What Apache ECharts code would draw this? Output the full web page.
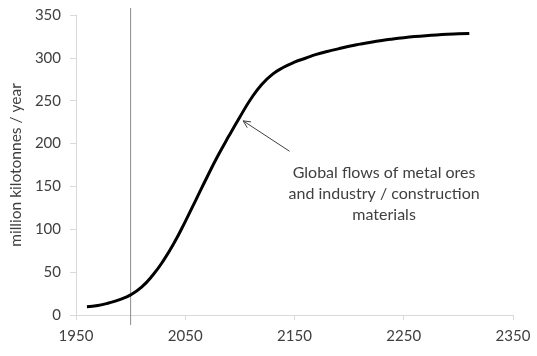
<!DOCTYPE html>
<html>
<head>
<meta charset="utf-8">
<script src="https://cdn.jsdelivr.net/npm/echarts@6/dist/echarts.min.js"></script>
<style>html,body{margin:0;padding:0;background:#fff;}#c{width:537px;height:356px;}</style>
</head>
<body>
<div id="c"></div>
<script>
const years = [1960,1970,1980,1990,2000,2010,2020,2030,2040,2050,2060,2070,2080,2090,2100,2110,2120,2130,2140,2150,2160,2170,2180,2190,2200,2210,2220,2230,2240,2250,2260,2270,2280,2290,2300,2310];
const flows = [9.5,11,14,18,23.5,32.5,46,63.5,84.5,109,135,161,186,209,231,252,269,281,289,295,299.5,304,307.5,310.5,313.5,316,318.3,320.3,322,323.5,324.8,325.9,326.8,327.5,328,328.5];
const xTicks = [1950,2050,2150,2250,2350];
const yTicks = [0,50,100,150,200,250,300,350];
const refYear = 2000;
const annotationText = ['Global flows of metal ores','and industry / construction','materials'];
const arrowFrom = [2145.5, 191];
const arrowTo = [2103, 226.5];
const annotationAt = [2232, 178];

const FONT = 'Lato, "Open Sans", sans-serif';
const chart = echarts.init(document.getElementById('c'), null, {renderer:'canvas'});
chart.setOption({
  animation: false,
  backgroundColor: '#fff',
  grid: {left: 75, right: 24, top: 15, bottom: 41},
  xAxis: {
    type: 'value', min: 1950, max: 2350, interval: 100,
    axisLine: {show: true, lineStyle: {color: '#d9d9d9', width: 1}},
    axisTick: {show: true, length: 5, lineStyle: {color: '#d9d9d9'}},
    splitLine: {show: false},
    axisLabel: {color: '#404040', fontFamily: FONT, fontSize: 15, margin: 14,
      formatter: v => xTicks.includes(v) ? String(v) : ''}
  },
  yAxis: {
    type: 'value', min: 0, max: 350, interval: 50,
    name: 'million kilotonnes / year', nameLocation: 'middle', nameGap: 41, nameRotate: 90,
    nameTextStyle: {color: '#404040', fontFamily: FONT, fontSize: 15.5},
    axisLine: {show: true, lineStyle: {color: '#d9d9d9', width: 1}},
    axisTick: {show: true, length: 6, lineStyle: {color: '#d9d9d9'}},
    splitLine: {show: false},
    axisLabel: {color: '#404040', fontFamily: FONT, fontSize: 15, margin: 15,
      formatter: v => yTicks.includes(v) ? String(v) : ''}
  },
  series: [{
    type: 'line', smooth: 0.5, symbol: 'none',
    data: years.map((y,i) => [y, flows[i]]),
    lineStyle: {color: '#000', width: 3},
    z: 5
  }]
});

const toPx = v => chart.convertToPixel({xAxisIndex:0, yAxisIndex:0}, v);
const pTop = toPx([refYear, 350]);
const pBot = toPx([refYear, 0]);
const pTxt = toPx(annotationAt);
const a0 = toPx(arrowFrom), a1 = toPx(arrowTo);
const ang = Math.atan2(a1[1]-a0[1], a1[0]-a0[0]);
const hl = 8, hw = 0.45;
const h1 = [a1[0] - hl*Math.cos(ang - hw), a1[1] - hl*Math.sin(ang - hw)];
const h2 = [a1[0] - hl*Math.cos(ang + hw), a1[1] - hl*Math.sin(ang + hw)];
chart.setOption({
  graphic: [
    {type: 'line', shape: {x1: pTop[0], y1: pTop[1] - 7, x2: pBot[0], y2: pBot[1] + 10},
     style: {stroke: '#8c8c8c', lineWidth: 1}, z: 1},
    {type: 'line', shape: {x1: a0[0], y1: a0[1], x2: a1[0], y2: a1[1]},
     style: {stroke: '#404040', lineWidth: 1}, z: 10},
    {type: 'polyline', shape: {points: [h1, a1, h2]},
     style: {stroke: '#404040', lineWidth: 1, fill: null}, z: 10},
    {type: 'text', x: pTxt[0], y: pTxt[1],
     style: {text: annotationText.join('\n'), fill: '#404040', font: '16px ' + FONT,
       textAlign: 'center', textVerticalAlign: 'top', lineHeight: 21}, z: 10}
  ]
});
</script>
</body>
</html>
